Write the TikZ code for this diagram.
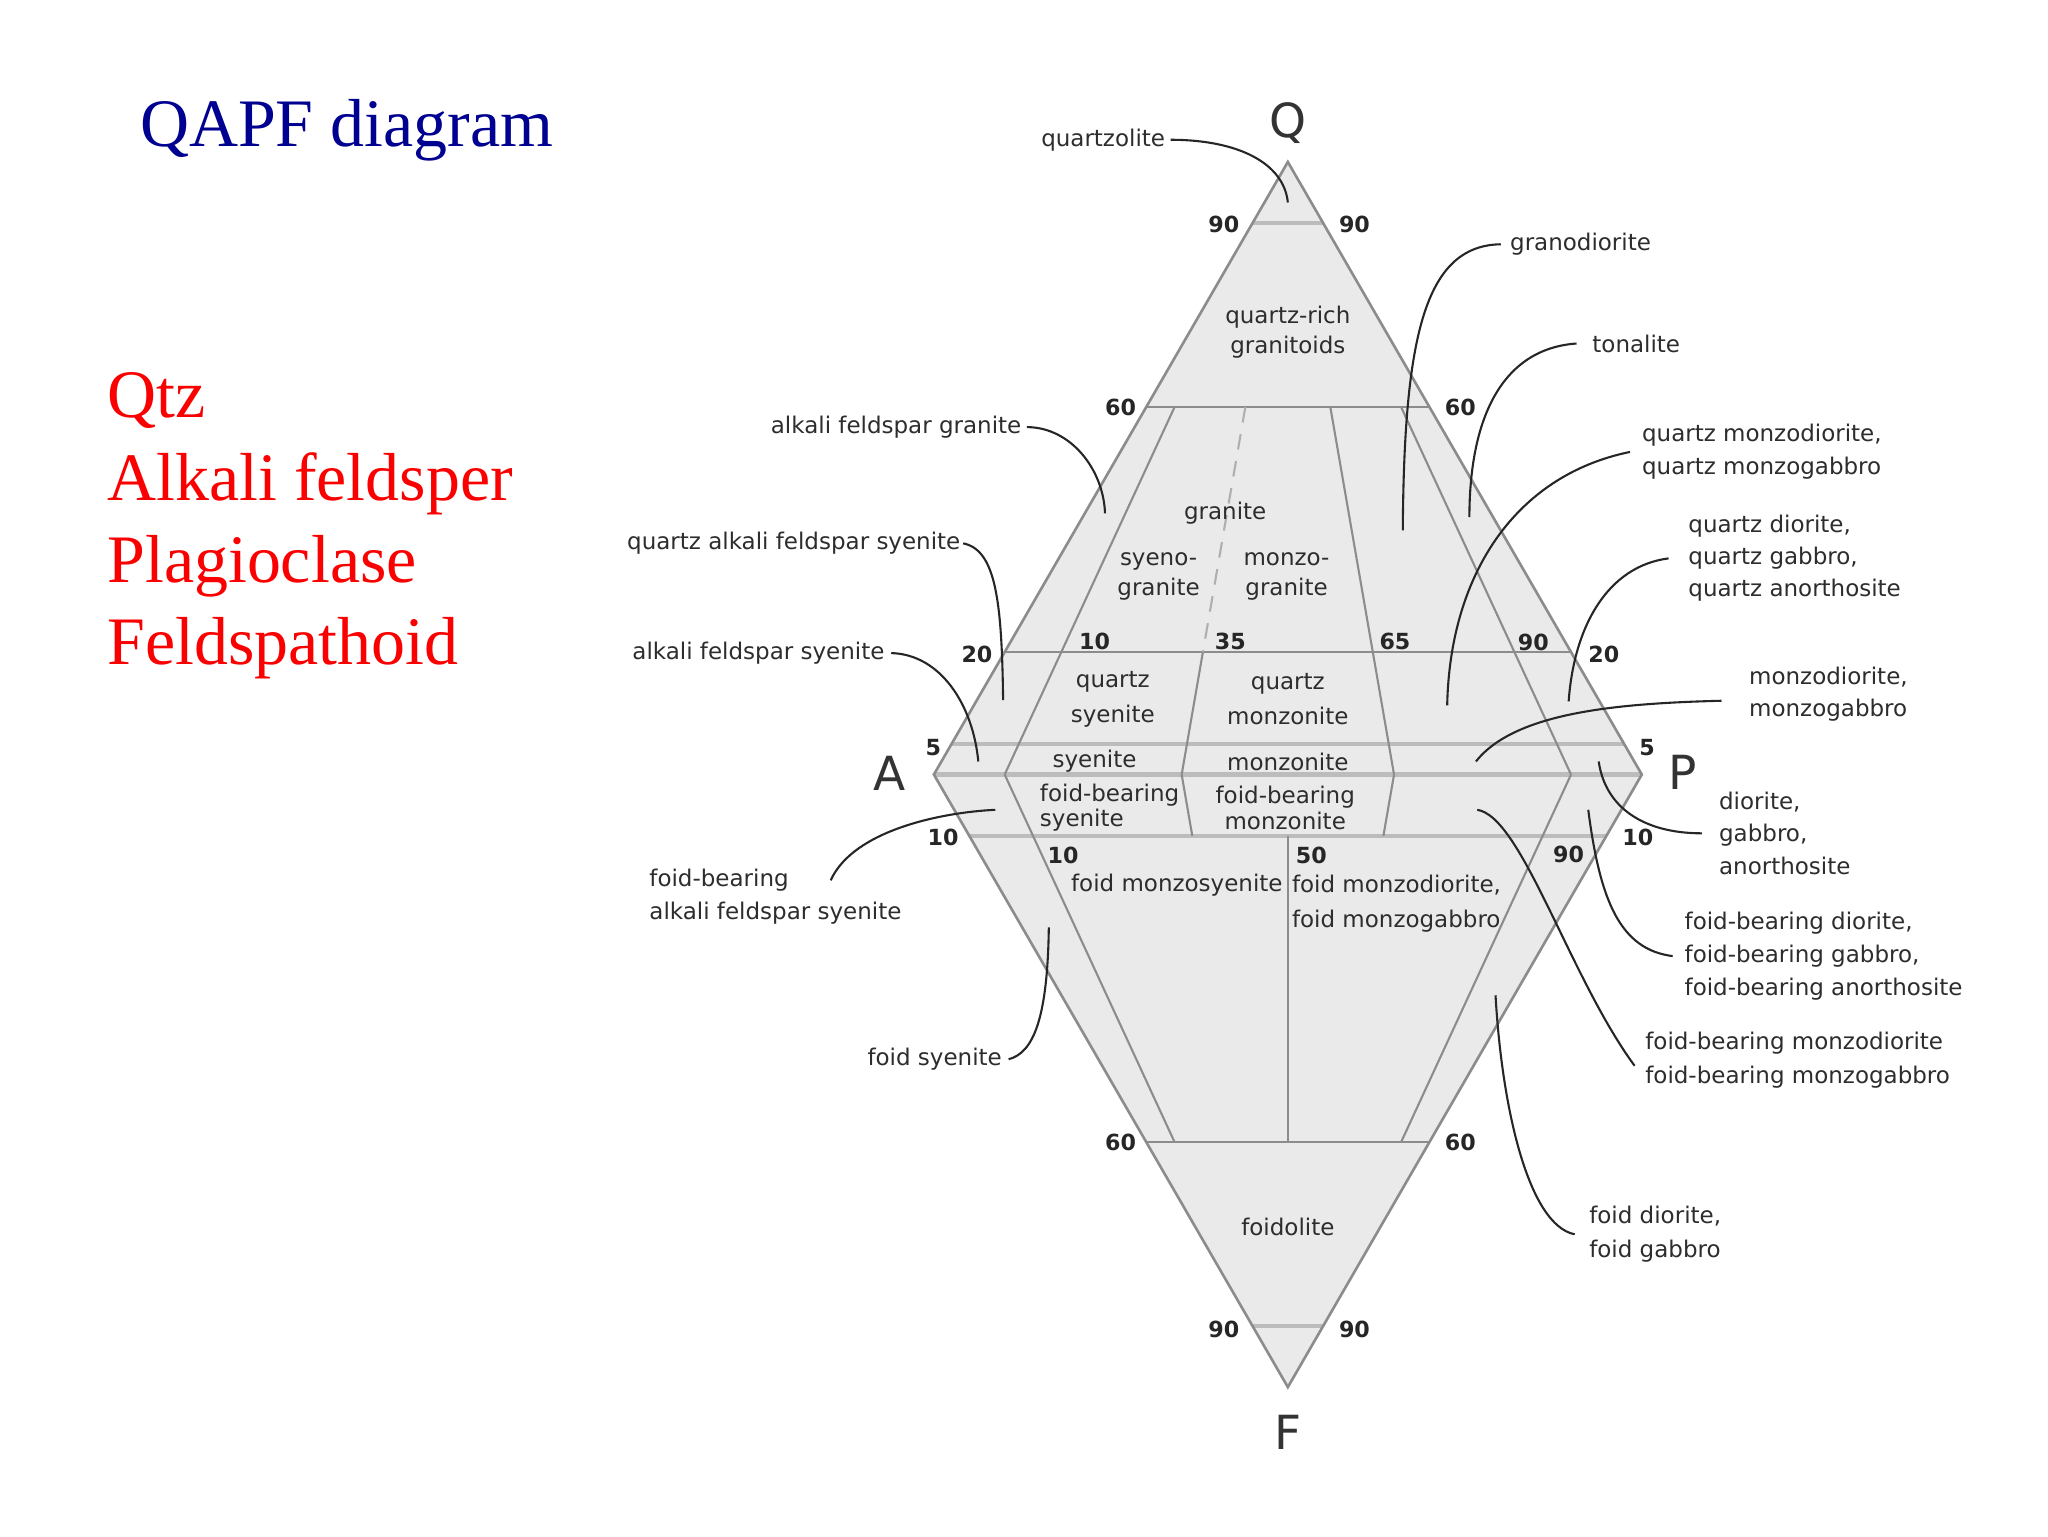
\documentclass[tikz,border=0pt]{standalone}
\usepackage{fontspec}
\setmainfont{Liberation Serif}
\setsansfont{DejaVu Sans}
\usetikzlibrary{calc}
\definecolor{fillc}{RGB}{234,234,234}
\definecolor{edgec}{RGB}{140,140,140}
\definecolor{thickc}{RGB}{188,188,188}
\definecolor{lblc}{RGB}{45,45,45}
\definecolor{titlec}{RGB}{0,0,145}
\definecolor{redc}{RGB}{250,0,0}
\begin{document}
\begin{tikzpicture}[x=1pt,y=-1pt,
  lab/.style={font=\sffamily\fontsize{17.6}{25}\selectfont, text=lblc, inner sep=2pt, align=center},
  labt/.style={lab, font=\sffamily\fontsize{17.6}{23}\selectfont},
  labw/.style={lab, font=\sffamily\fontsize{17.6}{27}\selectfont},
  labs/.style={lab, font=\sffamily\fontsize{17.6}{19.5}\selectfont},
  rlab/.style={lab, align=left, anchor=west},
  num/.style={font=\sffamily\bfseries\fontsize{17}{17}\selectfont, text=black!85, inner sep=0pt},
  vtx/.style={font=\sffamily\fontsize{36}{36}\selectfont, text=black!80, inner sep=0pt},
  edgeln/.style={draw=edgec, line width=2pt, line join=miter},
  fld/.style={draw=edgec, line width=1.6pt},
  thk/.style={draw=thickc, line width=3.5pt},
  calln/.style={draw=black!85, line width=1.6pt},
  bigtxt/.style={font=\rmfamily\fontsize{52}{52}\selectfont, anchor=base west, inner sep=0pt},
]
\useasboundingbox (0,0) rectangle (1568,1176);
\fill[white] (0,0) rectangle (1568,1176);

% title and list
\node[bigtxt, text=titlec] (title) at (107,112) {QAPF diagram};
\node[bigtxt, text=redc] (r1) at (82,320) {Qtz};
\node[bigtxt, text=redc] (r2) at (82,383) {Alkali feldsper};
\node[bigtxt, text=redc] (r3) at (82,446) {Plagioclase};
\node[bigtxt, text=redc] (r4) at (82,509) {Feldspathoid};

% corners
\coordinate (Q) at (986,124);
\coordinate (A) at (715,593);
\coordinate (P) at (1257,593);
\coordinate (F) at (986,1062);
\coordinate (B10) at (769.2,593);
\coordinate (B35) at (904.7,593);
\coordinate (B50) at (986,593);
\coordinate (B65) at (1067.3,593);
\coordinate (B90) at (1202.8,593);

\fill[fillc] (Q) -- (P) -- (F) -- (A) -- cycle;

% horizontal lines
\draw[thk, line width=3pt] ($(A)!0.9!(Q)$) -- ($(P)!0.9!(Q)$);
\draw[fld] ($(A)!0.6!(Q)$) -- ($(P)!0.6!(Q)$);
\draw[fld] ($(A)!0.2!(Q)$) -- ($(P)!0.2!(Q)$);
\draw[thk] ($(A)!0.05!(Q)$) -- ($(P)!0.05!(Q)$);
\draw[thk] (A) -- (P);
\draw[thk] ($(A)!0.1!(F)$) -- ($(P)!0.1!(F)$);
\draw[fld] ($(A)!0.6!(F)$) -- ($(P)!0.6!(F)$);
\draw[thk, line width=3pt] ($(A)!0.9!(F)$) -- ($(P)!0.9!(F)$);

% field boundaries, upper triangle
\draw[fld] ($(B10)!0.6!(Q)$) -- (B10);
\draw[fld, dash pattern=on 12pt off 9pt, draw=edgec!70] ($(B35)!0.6!(Q)$) -- ($(B35)!0.2!(Q)$);
\draw[fld] ($(B35)!0.2!(Q)$) -- (B35);
\draw[fld] ($(B65)!0.6!(Q)$) -- (B65);
\draw[fld] ($(B90)!0.6!(Q)$) -- (B90);
% field boundaries, lower triangle
\draw[fld] (B10) -- ($(B10)!0.6!(F)$);
\draw[fld] (B35) -- ($(B35)!0.1!(F)$);
\draw[fld] (B65) -- ($(B65)!0.1!(F)$);
\draw[fld] ($(B50)!0.1!(F)$) -- ($(B50)!0.6!(F)$);
\draw[fld] (B90) -- ($(B90)!0.6!(F)$);

% outline
\draw[edgeln] (Q) -- (P) -- (F) -- (A) -- cycle;

% corner letters
\node[vtx] (lQ) at (986,94) {Q};
\node[vtx] (lA) at (681,592) {A};
\node[vtx] (lP) at (1288,591) {P};
\node[vtx] (lF) at (986,1097) {F};

% numbers
\node[num] (n90a) at (937,172) {90};
\node[num] (n90b) at (1037,172) {90};
\node[num] (n60a) at (858,312) {60};
\node[num] (n60b) at (1118,312) {60};
\node[num] (n20a) at (748,501) {20};
\node[num] (n20b) at (1228,501) {20};
\node[num] (n10u) at (838,491) {10};
\node[num] (n35) at (942,491) {35};
\node[num] (n65) at (1068,491) {65};
\node[num] (n90u) at (1174,492) {90};
\node[num] (n5a) at (714.5,572) {5};
\node[num] (n5b) at (1261,572) {5};
\node[num] (n10a) at (722,641) {10};
\node[num] (n10b) at (1254,641) {10};
\node[num] (n10l) at (814,655) {10};
\node[num] (n50) at (1004,655) {50};
\node[num] (n90l) at (1201,654) {90};
\node[num] (n60c) at (858,875) {60};
\node[num] (n60d) at (1118,875) {60};
\node[num] (n90c) at (937,1018) {90};
\node[num] (n90d) at (1037,1018) {90};

% field names
\node[labt] (qrg) at (986,254) {quartz-rich\\granitoids};
\node[lab] (gra) at (938,393) {granite};
\node[labt] (syg) at (887,441.5) {syeno-\\granite};
\node[labt] (mzg) at (985,441.5) {monzo-\\granite};
\node[labw] (qsy) at (852,535.5) {quartz\\syenite};
\node[labw] (qmz) at (986,535.5) {quartz\\monzonite};
\node[lab] (sy) at (838,583) {syenite};
\node[lab] (mz) at (986,583) {monzonite};
\node[labs, align=left, anchor=west] (fbs) at (794,618.5) {foid-bearing\\syenite};
\node[labs] (fbm) at (984,618.5) {foid-bearing\\monzonite};
\node[lab] (fms) at (901,678) {foid monzosyenite};
\node[labw, align=left, anchor=west] (fmd) at (987,692) {foid monzodiorite,\\foid monzogabbro};
\node[lab] (fdl) at (986,939) {foidolite};

% outer labels, left
\node[rlab] (qzl) at (795,107) {quartzolite};
\node[rlab] (afg) at (588,327) {alkali feldspar granite};
\node[rlab] (qafs) at (478,416) {quartz alkali feldspar syenite};
\node[rlab] (afs) at (482,500) {alkali feldspar syenite};
\node[rlab] (fbafsa) at (495,674) {foid-bearing};
\node[rlab] (fbafsb) at (495,699.5) {alkali feldspar syenite};
\node[rlab] (fsy) at (662,811) {foid syenite};

% outer labels, right
\node[rlab] (grd) at (1154,187) {granodiorite};
\node[rlab] (ton) at (1217,263) {tonalite};
\node[rlab] (qmd) at (1255,346) {quartz monzodiorite,\\quartz monzogabbro};
\node[rlab, font=\sffamily\fontsize{17.6}{24.4}\selectfont] (qdi) at (1290.5,427.5) {quartz diorite,\\quartz gabbro,\\quartz anorthosite};
\node[rlab] (mzd) at (1337,531.5) {monzodiorite,\\monzogabbro};
\node[rlab] (dio) at (1314,638) {diorite,\\gabbro,\\anorthosite};
\node[rlab] (fbd) at (1287.6,732) {foid-bearing diorite,\\foid-bearing gabbro,\\foid-bearing anorthosite};
\node[rlab, font=\sffamily\fontsize{17.6}{26}\selectfont] (fbmd) at (1257.5,812) {foid-bearing monzodiorite\\foid-bearing monzogabbro};
\node[rlab, font=\sffamily\fontsize{17.6}{26}\selectfont] (fdi) at (1214.6,945) {foid diorite,\\foid gabbro};

% callout targets
\coordinate (cQzl) at (986,155);
\coordinate (cAfg) at (846,393);
\coordinate (cQafs) at (768,536);
\coordinate (cAfs) at (749,583);
\coordinate (cFbafs) at (762,620);
\coordinate (cFsy) at (803,710);
\coordinate (cGrd) at (1074,406);
\coordinate (cTon) at (1125,396);
\coordinate (cQmd) at (1108,540);
\coordinate (cQdi) at (1201,537);
\coordinate (cMzd) at (1130,583);
\coordinate (cDio) at (1224,583);
\coordinate (cFbd) at (1216,620);
\coordinate (cFbmd) at (1131,620);
\coordinate (cFdi) at (1145,762);

% callouts
\draw[calln] ([xshift=2pt]qzl.east) .. controls +(52,0) and +(-3,-30) .. (cQzl);
\draw[calln] ([xshift=2pt]afg.east) .. controls +(34,0) and +(-1,-33) .. (cAfg);
\draw[calln] (qafs.east) .. controls +(25,5) and +(-1,-76) .. (cQafs);
\draw[calln] ([xshift=3pt]afs.east) .. controls +(38,1) and +(-4,-43) .. (cAfs);
\draw[calln] ([xshift=30pt]fbafsa.east) .. controls +(17,-38) and +(-42,2) .. (cFbafs);
\draw[calln] ([xshift=3pt]fsy.east) .. controls +(19,-5) and +(-1,70) .. (cFsy);
\draw[calln] ([xshift=-5pt]grd.west) .. controls +(-59,1) and +(1,-146) .. (cGrd);
\draw[calln] ([xshift=-10pt]ton.west) .. controls +(-57,4) and +(0,-76) .. (cTon);
\draw[calln] ([xshift=-7pt]qmd.west) .. controls +(-88,18) and +(2,-100) .. (cQmd);
\draw[calln] ([xshift=-13pt]qdi.west) .. controls +(-47,6) and +(4,-57) .. (cQdi);
\draw[calln] ([xshift=-19pt,yshift=-5pt]mzd.west) .. controls +(-78,2) and +(30,-38) .. (cMzd);
\draw[calln] ([xshift=-11pt]dio.west) .. controls +(-45,0) and +(5,35) .. (cDio);
\draw[calln] ([xshift=-7pt]fbd.west) .. controls +(-40,-5) and +(9,70) .. (cFbd);
\draw[calln] ([xshift=-6pt,yshift=-4pt]fbmd.west) .. controls +(-50,-68) and +(34,5) .. (cFbmd);
\draw[calln] ([xshift=-9pt]fdi.west) .. controls +(-35,-7) and +(5,88) .. (cFdi);
\end{tikzpicture}
\end{document}
